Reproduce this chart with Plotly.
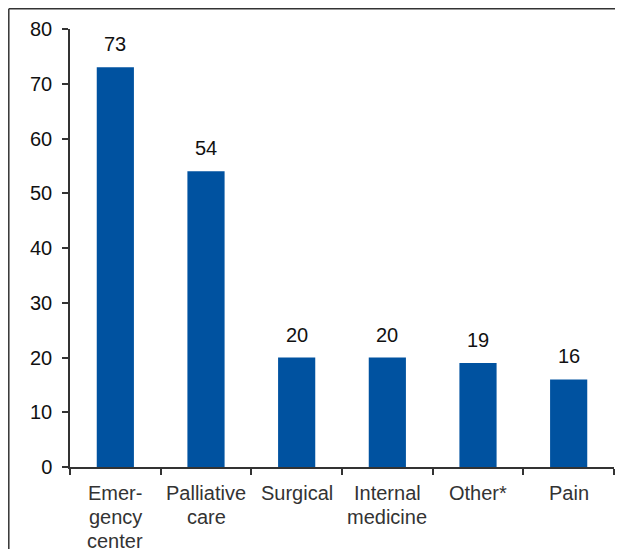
import plotly.graph_objects as go

categories = ["Emer-<br>gency<br>center", "Palliative<br>care", "Surgical", "Internal<br>medicine", "Other*", "Pain"]
values = [73, 54, 20, 20, 19, 16]
y_ticks = [0, 10, 20, 30, 40, 50, 60, 70, 80]

bar_color = "#0052A0"
font_family = "Liberation Sans, Arial, Helvetica, sans-serif"

fig = go.Figure()
fig.add_trace(go.Bar(x=categories, y=values, marker=dict(color=bar_color, line=dict(width=0)),
                     width=0.41, hoverinfo="skip"))

for c, v in zip(categories, values):
    fig.add_annotation(x=c, y=v, text=str(v), showarrow=False, yanchor="bottom",
                       yshift=10, font=dict(size=20, color="#111111", family=font_family))

# category labels, one annotation per line for tighter line spacing
for c in categories:
    for i, part in enumerate(c.split("<br>")):
        fig.add_annotation(x=c, y=0, text=part, showarrow=False, yanchor="middle",
                           yshift=-(26 + 24 * i),
                           font=dict(size=20, color="#333333", family=font_family))

# the page body has an 8px margin, so the figure is laid out 8px left/up of the target
W, H = 623, 549
off = 8
l, r, t, b = 70 - off, 9 + off, 29 - off, 82 + off
pw, ph = W - l - r, H - t - b
x0 = (0.8 - l) / pw
ytop = 1 + (t - 0.8) / ph
ybot = -(b + 5) / ph
line_style = dict(color="#333333", width=1.5)
fig.add_shape(type="line", xref="paper", yref="paper", x0=x0, x1=(W + 5 - l) / pw, y0=ytop, y1=ytop, line=line_style)
fig.add_shape(type="line", xref="paper", yref="paper", x0=x0, x1=x0, y0=ytop, y1=ybot, line=line_style)

fig.update_layout(
    width=W, height=H,
    margin=dict(l=l, r=r, t=t, b=b, autoexpand=False),
    paper_bgcolor="white", plot_bgcolor="white",
    showlegend=False,
    bargap=0.59,
    font=dict(family=font_family, size=20, color="#222222"),
    xaxis=dict(showline=True, linecolor="#333333", linewidth=1.5, ticks="outside",
               tickson="boundaries", ticklen=6, tickwidth=1.5, tickcolor="#333333",
               showticklabels=False, showgrid=False, fixedrange=True, automargin=False),
    yaxis=dict(range=[0, 80], tickvals=y_ticks, showline=True, linecolor="#333333", linewidth=1.5,
               ticks="outside", ticklen=6, tickwidth=1.5, tickcolor="#333333",
               ticklabelstandoff=6,
               tickfont=dict(size=20, color="#111111"), showgrid=False, zeroline=False, fixedrange=True,
               automargin=False),
)

fig.write_html("out.html")
